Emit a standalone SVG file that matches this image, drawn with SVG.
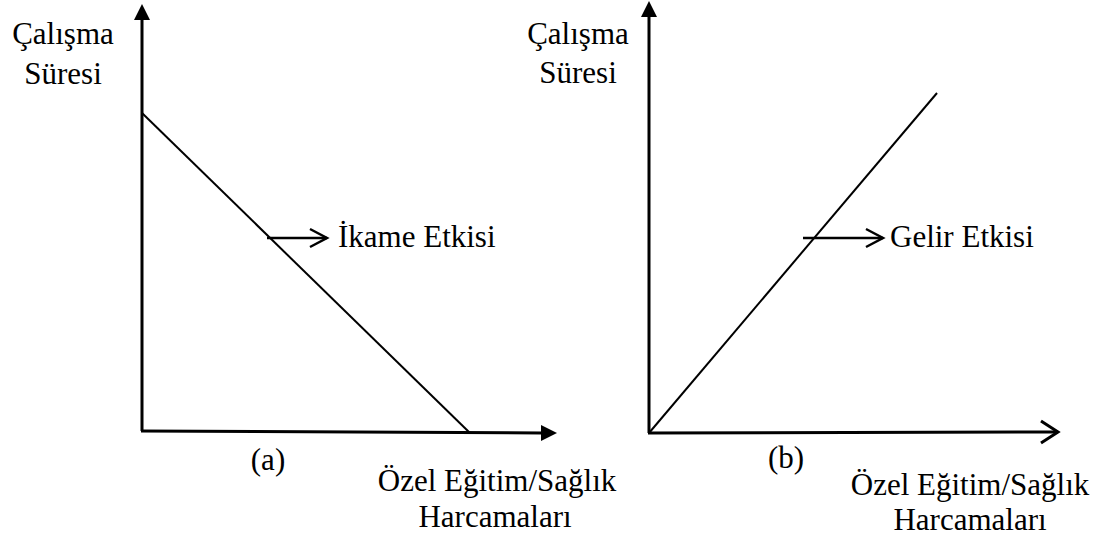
<svg xmlns="http://www.w3.org/2000/svg" width="1108" height="537" viewBox="0 0 1108 537">
<style>
text{font-family:"Liberation Serif","Times New Roman",serif;font-size:31px;fill:#000}
.ax{stroke:#000;stroke-width:3;fill:none}
.ln{stroke:#000;stroke-width:2;fill:none}
.ar{stroke:#000;stroke-width:2.5;fill:none}
.fill{fill:#000;stroke:none}
</style>
<rect width="1108" height="537" fill="#fff"/>
<g id="connectors">
<line class="ax" x1="142" y1="431" x2="142" y2="18"/>
<polygon class="fill" points="142,4 134,20 150,20"/>
<line class="ax" x1="141" y1="431" x2="542" y2="433"/>
<polygon class="fill" points="557,433 541,425 541,441"/>
<line class="ln" x1="142" y1="113" x2="470" y2="433"/>
<line class="ar" x1="267" y1="238" x2="327" y2="238"/>
<polyline class="ar" points="310,229 327,238 310,247"/>
<line class="ax" x1="649" y1="433" x2="649" y2="15"/>
<polygon class="fill" points="649,1 641,17 657,17"/>
<line class="ax" x1="648" y1="433" x2="1058" y2="432"/>
<polyline class="ax" points="1041,421 1058,432 1041,443"/>
<line class="ln" x1="649" y1="433" x2="937" y2="93"/>
<line class="ar" x1="803" y1="238" x2="883" y2="238"/>
<polyline class="ar" points="866,229 883,238 866,247"/>
</g>
<g id="label-y-a"><text x="63" y="44" text-anchor="middle">Çalışma</text><text x="63" y="84" text-anchor="middle">Süresi</text></g>
<g id="label-y-b"><text x="578" y="44" text-anchor="middle">Çalışma</text><text x="578" y="83" text-anchor="middle">Süresi</text></g>
<g id="label-ikame"><text x="338" y="247">İkame Etkisi</text></g>
<g id="label-gelir"><text x="890" y="247">Gelir Etkisi</text></g>
<g id="label-a"><text x="268" y="470" text-anchor="middle">(a)</text></g>
<g id="label-b"><text x="786" y="468" text-anchor="middle">(b)</text></g>
<g id="label-x-a"><text x="497" y="491" text-anchor="middle">Özel Eğitim/Sağlık</text><text x="495" y="527" text-anchor="middle">Harcamaları</text></g>
<g id="label-x-b"><text x="970" y="495" text-anchor="middle">Özel Eğitim/Sağlık</text><text x="970" y="530" text-anchor="middle">Harcamaları</text></g>
</svg>
